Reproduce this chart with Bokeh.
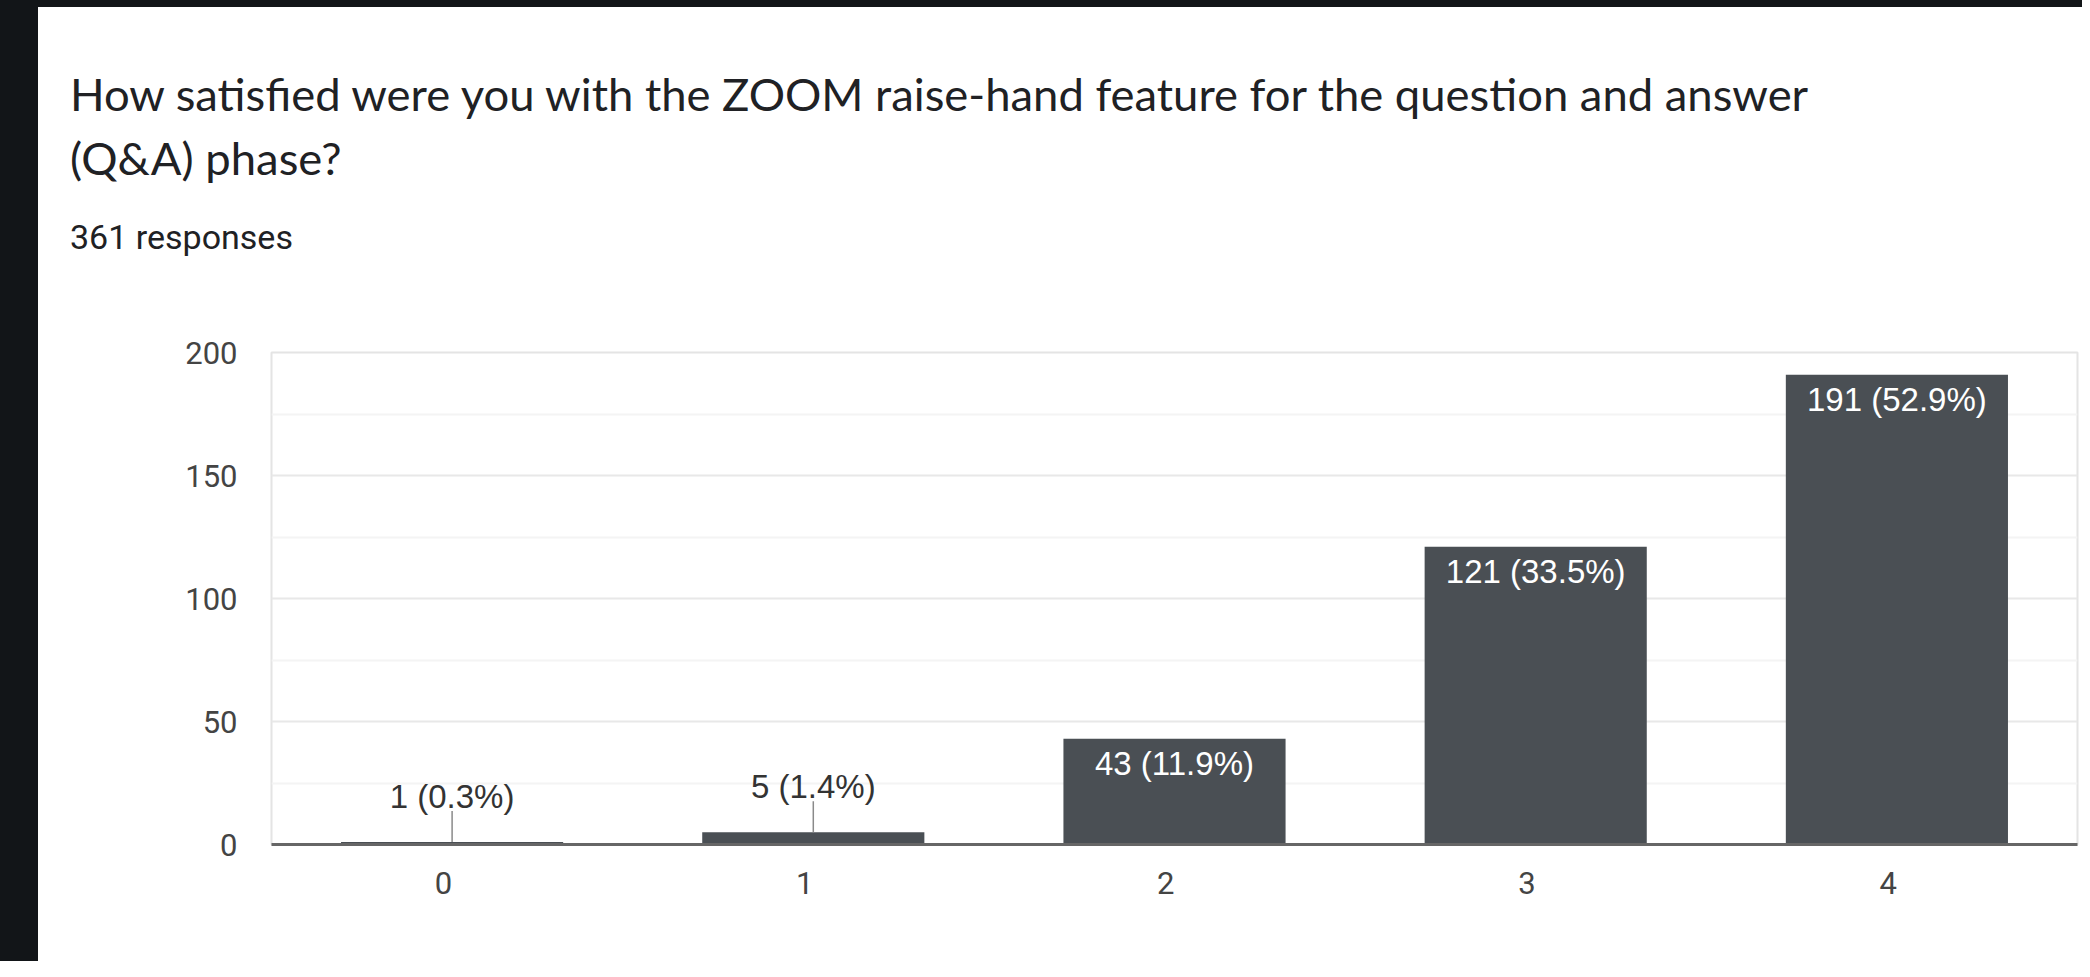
from bokeh.plotting import figure
from bokeh.models import ColumnDataSource, FactorRange, Range1d, FixedTicker, LabelSet, Div
from bokeh.layouts import row, column
from bokeh.embed import file_html
from bokeh.resources import INLINE
from bokeh.core.properties import value
import html

# ---- data ----
title_line1 = "How satisfied were you with the ZOOM raise-hand feature for the question and answer"
title_line2 = "(Q&A) phase?"
subtitle = "361 responses"
categories = ["0", "1", "2", "3", "4"]
counts = [1, 5, 43, 121, 191]
percents = ["0.3%", "1.4%", "11.9%", "33.5%", "52.9%"]
y_ticks = [0, 50, 100, 150, 200]
y_minor_ticks = [25, 75, 125, 175]
y_max = 200

# ---- layout constants ----
SIDE_W = 38
TOP_STRIP_H = 7
TOTAL_W, TOTAL_H = 2044, 961
HEAD_H = 273
FIG_H = TOTAL_H - TOP_STRIP_H - HEAD_H
BORDER_L, BORDER_R, BORDER_T, BORDER_B = 233, 5, 72, 117
FRAME_H = FIG_H - BORDER_T - BORDER_B
PX_PER_UNIT = FRAME_H / y_max
LEADER_PX = 31
INSIDE_MIN_PX = 60

DARK = "#121518"
BAR_COLOR = "#4a4f54"
LABEL_FONT = "Liberation Sans"
TICK_FONT = "Roboto"

labels = [f"{c} ({p})" for c, p in zip(counts, percents)]
inside = [c * PX_PER_UNIT > INSIDE_MIN_PX for c in counts]

src = ColumnDataSource(dict(cat=categories, count=counts, label=labels))
src_in = ColumnDataSource(dict(
    cat=[c for c, i in zip(categories, inside) if i],
    count=[n for n, i in zip(counts, inside) if i],
    label=[l for l, i in zip(labels, inside) if i],
))
out_counts = [n for n, i in zip(counts, inside) if not i]
src_out = ColumnDataSource(dict(
    cat=[c for c, i in zip(categories, inside) if not i],
    count=out_counts,
    top=[n + LEADER_PX / PX_PER_UNIT for n in out_counts],
    label=[l for l, i in zip(labels, inside) if not i],
))

# ---- header (title texts) ----
head_html = (
    '<div style="padding:55px 0 0 32px;margin:0;font-family:Lato;font-size:45.4px;'
    'line-height:64px;color:#202124;white-space:nowrap">'
    f'{html.escape(title_line1)}<br>{html.escape(title_line2)}</div>'
    '<div style="padding:0 0 0 32px;margin:28px 0 0 0;font-family:Roboto;font-size:34px;'
    'line-height:38px;color:#202124;white-space:nowrap">'
    f'{html.escape(subtitle)}</div>'
)
head = Div(text=head_html, width=TOTAL_W, height=HEAD_H, margin=0)
top_strip = Div(text="", width=TOTAL_W, height=TOP_STRIP_H, margin=0,
                styles={"background-color": DARK})

# ---- chart ----
p = figure(
    width=TOTAL_W, height=FIG_H,
    x_range=FactorRange(factors=categories, range_padding=0),
    y_range=Range1d(0, y_max),
    output_backend="svg", toolbar_location=None,
    min_border_left=BORDER_L, min_border_right=BORDER_R,
    min_border_top=BORDER_T, min_border_bottom=BORDER_B,
    background_fill_color="white", border_fill_color="white",
)

p.vbar(x="cat", top="count", width=0.615, source=src,
       fill_color=BAR_COLOR, line_color=None)

p.segment(x0="cat", y0="count", x1="cat", y1="top", source=src_out,
          line_color="#8a8a8a", line_width=1.5)

p.add_layout(LabelSet(x="cat", y="count", text="label", source=src_in,
                      text_align="center", text_baseline="middle", y_offset=-25,
                      text_color="white", text_font=value(LABEL_FONT),
                      text_font_size="33px"))
p.add_layout(LabelSet(x="cat", y="count", text="label", source=src_out,
                      text_align="center", text_baseline="middle", y_offset=46,
                      text_color="#333333", text_font=value(LABEL_FONT),
                      text_font_size="33px"))

p.yaxis.ticker = FixedTicker(ticks=y_ticks, minor_ticks=y_minor_ticks)
p.yaxis.axis_line_color = None
p.yaxis.major_tick_line_color = None
p.yaxis.minor_tick_line_color = None
p.yaxis.major_tick_out = 0
p.yaxis.major_tick_in = 0
p.yaxis.minor_tick_out = 0
p.yaxis.major_label_standoff = 34
p.yaxis.major_label_orientation = 0
p.yaxis.major_label_text_font = TICK_FONT
p.yaxis.major_label_text_font_size = "31px"
p.yaxis.major_label_text_color = "#444444"

p.xaxis.axis_line_color = "#666666"
p.xaxis.axis_line_width = 3
p.xaxis.major_tick_line_color = None
p.xaxis.major_tick_out = 0
p.xaxis.major_tick_in = 0
p.xaxis.major_label_standoff = 38
p.xaxis.major_label_orientation = 0
p.xaxis.major_label_text_font = TICK_FONT
p.xaxis.major_label_text_font_size = "31px"
p.xaxis.major_label_text_color = "#444444"

p.xgrid.grid_line_color = None
p.ygrid.grid_line_color = "#e8e8e8"
p.ygrid.grid_line_width = 2
p.ygrid.minor_grid_line_color = "#f4f4f4"
p.ygrid.minor_grid_line_width = 2
p.outline_line_color = "#e4e4e4"
p.outline_line_width = 2

side = Div(text="", width=SIDE_W, height=TOTAL_H, margin=0,
           styles={"background-color": DARK})

layout = row(side, column(top_strip, head, p))
open("out.html", "w").write(file_html(layout, INLINE))
